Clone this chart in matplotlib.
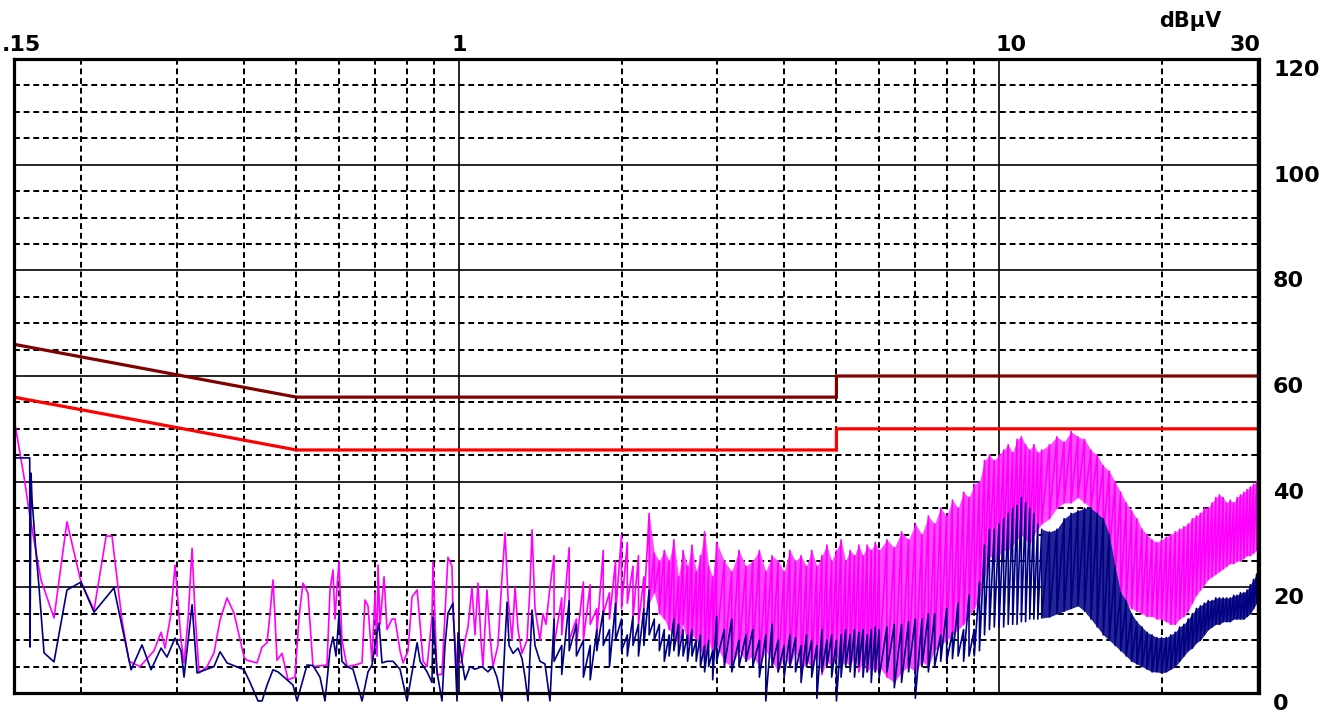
import numpy as np
import matplotlib
matplotlib.use("Agg")
import matplotlib.pyplot as plt

# ---------------- data ----------------
# limit lines (MHz, dBuV)
qp_f = [0.15, 0.5, 5.0, 5.0, 30.0]
qp_db = [66, 56, 56, 60, 60]
av_f = [0.15, 0.5, 5.0, 5.0, 30.0]
av_db = [56, 46, 46, 50, 50]

# magenta trace, low-frequency part (single trace)
mag_lf_f = [0.150, 0.1565, 0.1599, 0.1633, 0.1683, 0.1779, 0.1880, 0.1996, 0.2110, 0.2222,
            0.2278, 0.2377, 0.2450, 0.2567, 0.2725, 0.2808, 0.2856, 0.2930, 0.2980, 0.3019,
            0.3058, 0.3097, 0.3151, 0.3205, 0.3246, 0.3302, 0.3416, 0.3519, 0.3611, 0.3720,
            0.3833, 0.4000, 0.4051, 0.4228, 0.4319, 0.4412, 0.4468, 0.4526, 0.4565, 0.4604,
            0.4703, 0.4825, 0.4971, 0.5057, 0.5143, 0.5254, 0.5367, 0.5697, 0.5771, 0.5845,
            0.5895, 0.5945, 0.5996, 0.6073, 0.6205, 0.6420, 0.6615, 0.6700, 0.6786, 0.6903,
            0.6992, 0.7052, 0.7082, 0.7143, 0.7266, 0.7359, 0.7517, 0.7614, 0.7779, 0.7879,
            0.8049, 0.8188, 0.8366, 0.8473, 0.8582, 0.8730, 0.8914, 0.8953, 0.9106, 0.9302,
            0.9422, 0.9543, 0.9707, 0.9749, 0.9917, 1.0132, 1.0262, 1.0393, 1.0572, 1.0707,
            1.0845, 1.0984, 1.1078, 1.1268, 1.1413, 1.1560, 1.1808, 1.2018, 1.2173, 1.2329,
            1.2541, 1.2702, 1.2865, 1.3086, 1.3367, 1.3539, 1.3655, 1.3830, 1.4127, 1.4308,
            1.4492, 1.4741]
mag_lf_db = [52, 41, 34.6, 29, 21.4, 14.2, 32.4, 21, 15.7, 29.7,
             29.7, 13.8, 6, 5, 8, 11.5, 8.5, 15.1, 24.2, 17,
             10, 5.7, 14, 27.4, 15, 3.8, 5, 7.6, 13.8, 18,
             15.1, 6.8, 6.2, 5.7, 8.7, 9.5, 15, 21.4, 14, 6.2,
             7.5, 2.5, 3, 14.4, 20.8, 18.9, 5, 5.3, 19.5, 23.3,
             14, 20, 24.8, 10, 5, 5.3, 5.7, 17.6, 16.5, 6,
             19, 7, 24.2, 13, 22, 12, 14, 14, 8, 5.7,
             8, 18.2, 19.5, 13, 6, 5, 14.4, 24.8, 3.5, 3.5,
             15, 25.7, 24, 15, 5, 6.2, 10, 12.5, 20, 11,
             20.8, 10, 5, 19.5, 11, 5, 9, 22, 30.3, 18,
             10, 20, 12, 7.5, 10, 20, 30.9, 16, 10, 15,
             13, 20]

# navy trace, low-frequency part (single trace)
nav_lf_f = [0.150, 0.1604, 0.1606, 0.1613, 0.1620, 0.1648, 0.1669, 0.1705, 0.1779, 0.1880,
            0.1996, 0.2110, 0.2297, 0.2471, 0.2589, 0.2691, 0.2808, 0.2880, 0.2980, 0.3058,
            0.3097, 0.3205, 0.3274, 0.3519, 0.3611, 0.3720, 0.4000, 0.4104, 0.4246, 0.4319,
            0.4412, 0.4526, 0.4623, 0.4805, 0.4929, 0.5014, 0.5232, 0.5367, 0.5530, 0.5649,
            0.5771, 0.5845, 0.5920, 0.5996, 0.6073, 0.6205, 0.6365, 0.6615, 0.6786, 0.6903,
            0.7052, 0.7112, 0.7204, 0.7359, 0.7549, 0.7779, 0.8014, 0.8223, 0.8366, 0.8473,
            0.8730, 0.8914, 0.8953, 0.9106, 0.9302, 0.9422, 0.9543, 0.9749, 0.9833, 0.9917,
            0.9960, 1.0132, 1.0262, 1.0482, 1.0707, 1.1031, 1.1316, 1.1560, 1.1758, 1.2018,
            1.2173, 1.2277, 1.2382, 1.2595, 1.2865, 1.3086, 1.3254, 1.3424, 1.3655, 1.3830,
            1.4127, 1.4430, 1.4741]
nav_lf_db = [44.5, 44.5, 8.7, 41.6, 36.5, 26.5, 20, 7.6, 5.9, 19.5,
             21, 15.3, 19.9, 4.4, 9.1, 4.4, 8.5, 6.8, 10.4, 8,
             3, 16.7, 3.8, 5, 7.8, 5.7, 4.4, 2, -1.5, -1.5,
             1.5, 4.4, 4, 2.5, 1.5, -1.5, 5.3, 5.2, 3, -1.5,
             8.1, 10.6, 7, 14.8, 6, 5, 4.5, -1.5, 4, 5.3,
             11.4, 13.2, 5.7, 6, 6, 4.5, -1.5, 5, 9.5, 6,
             4, 2, 14.4, 4, -1.5, 9, 15.1, 17, 8, -1.5,
             11.4, 6, 2.5, 5, 4.5, 5, 4, 5, 3, -1.5,
             10, 17.2, 9, 7.5, 8.5, 6.5, 3, -1.5, 15.7, 9,
             6, 5.5, -1.5]

# dense sweep part: frequency, peak-top and trough values per sweep step
sweep_f = [1.50, 1.55, 1.60, 1.65, 1.70, 1.75, 1.80, 1.85, 1.90, 1.95,
           2.00, 2.05, 2.10, 2.15, 2.20, 2.25, 2.30, 2.35, 2.40, 2.45,
           2.50, 2.55, 2.60, 2.65, 2.70, 2.75, 2.80, 2.85, 2.90, 2.95,
           3.0, 3.1, 3.2, 3.3, 3.4, 3.5, 3.6, 3.7, 3.8, 3.9,
           4.0, 4.1, 4.2, 4.3, 4.4, 4.5, 4.6, 4.7, 4.8, 4.9,
           5.0, 5.1, 5.2, 5.3, 5.4, 5.5, 5.6, 5.7, 5.8, 5.9,
           6.0, 6.2, 6.4, 6.6, 6.8, 7.0, 7.2, 7.4, 7.6, 7.8,
           8.0, 8.2, 8.4, 8.6, 8.8, 9.0, 9.2, 9.4, 9.6, 9.8,
           10.0, 10.2, 10.4, 10.6, 10.8, 11.0, 11.2, 11.4, 11.6, 11.8,
           12.0, 12.4, 12.8, 13.2, 13.6, 14.0, 14.4, 14.8, 15.2, 15.6,
           16.0, 16.4, 16.8, 17.2, 17.6, 18.0, 18.4, 18.8, 19.2, 19.6,
           20.0, 20.4, 20.8, 21.2, 21.6, 22.0, 22.4, 22.8, 23.2, 23.6,
           24.0, 24.4, 24.8, 25.2, 25.6, 26.0, 26.4, 26.8, 27.2, 27.6,
           28.0, 28.4, 28.8, 29.2, 29.6, 30.0]
mag_hi = [26, 18, 27.5, 14, 21, 20.5, 16, 27, 19, 25,
          30, 28.5, 24, 26, 22, 34, 26.5, 25, 27, 25,
          29, 22, 27, 24, 28, 23, 26, 30.5, 24, 22,
          28.5, 25, 23, 27, 24, 25, 27, 23, 26, 25,
          23, 27, 25, 26, 24, 27, 24, 26, 28, 25,
          27, 29, 25, 27, 26, 28, 26, 28, 27, 28.5,
          27, 29, 27.5, 30.5, 29, 32, 30, 33.5, 32, 35,
          33.5, 36.5, 35, 38, 37, 39.5, 40, 44, 45, 44,
          45, 46, 47, 45.5, 48, 48.5, 47, 46, 47, 45.5,
          46, 47, 48.5, 47.5, 49.5, 48.5, 48, 46, 45, 43,
          42, 40, 38, 36, 34.5, 33, 31, 30, 29, 28.5,
          29, 29.5, 30, 30.5, 31, 31.5, 32, 33, 33.5, 34,
          35, 35, 36, 37, 37.5, 37, 36, 36.5, 36, 37,
          37.5, 38, 38.5, 39, 39.5, 40]
mag_lo = [9, 11, 10, 9, 10, 13, 11, 15, 14, 15,
          16, 17, 14, 13, 16, 17, 19, 15, 14, 12,
          11, 9, 13, 9, 11, 10, 8, 6, 10, 7,
          9, 6, 5, 8, 6, 7, 5, 8, 6, 4,
          7, 5, 8, 4, 6, 5, 7, 3.5, 6, 5,
          7, 5, 6, 5, 7, 4, 6, 4, 5, 4,
          5, 3, 2, 4, 5, 4, 6, 5, 8, 9,
          10, 11, 12, 13, 14.5, 16, 18, 22, 26, 25,
          26, 27, 27, 28, 29, 30, 29, 28, 30, 31,
          32, 33, 35, 36, 36, 37, 36, 35, 33, 30,
          26, 22, 18, 17, 16, 15.5, 15, 14.5, 14.5, 14,
          14, 13.5, 13, 13, 14, 14.5, 15.5, 17, 18.5, 19.5,
          20.5, 21.5, 22, 22.5, 23, 23.5, 24, 24.5, 24.5, 25,
          25, 25.5, 26, 26, 26.5, 27]
nav_hi = [14, 9, 17.5, 13, 10, 9, 12, 15.5, 12, 17,
          14, 11, 14.5, 13, 16, 19.5, 14, 13, 12, 11,
          14, 13, 12, 11, 12, 10, 11, 9, 10, 8,
          14.5, 12, 14, 10, 11, 12, 10, 11, 13, 10,
          9, 11, 10.5, 9, 11, 10, 9, 12, 10, 11,
          10, 11, 12, 11, 12, 11.5, 12, 11, 12, 12.5,
          12, 12.5, 13, 13, 13.5, 14, 14, 15, 15, 11,
          16, 11.5, 17, 12, 18.5, 12, 21, 28, 31, 31,
          32, 33, 34, 35, 35.5, 37, 36, 35, 34, 32,
          31, 30.5, 31, 33, 34, 34.5, 35, 35, 34, 33,
          30, 24, 19, 17.5, 15, 13.5, 12.5, 11.5, 11, 10.5,
          10.5, 10.5, 11, 11.5, 12.5, 13, 14, 15, 16, 16.5,
          17, 17.5, 17.5, 18, 18, 18, 18, 18, 18.5, 18.5,
          19, 19, 19.5, 20.5, 21.5, 22.5]
nav_lo = [6, 3.5, 8, 7, 3, 2.5, 8, 9, 5, 10,
          8, 7, 9, 7, 9, 11, 10, 8, 6, 7,
          8, 7, 7, 6, 7, 6, 5, 4, 5, 2.5,
          6, 5, 4, 5, 6, 5, 3, -1.5, 5, 4,
          3, 5, 4, 2, 5, 3, -1, 4, 5, 3,
          -1.5, 3, 5, 4, 3, 5, 3, 4, 2, 4,
          3, 4, 1, 2, 4, -1, 5, 4, 5, 6,
          6, 6.5, 7, 6, 7, 7, 8, 11, 12, 12.5,
          12.5, 12.5, 13, 13, 13, 13.5, 13.5, 14, 14, 14,
          14.2, 14.4, 15, 15.5, 16, 16.5, 15.5, 14, 12.5, 11,
          10, 9, 8, 7, 6, 5.5, 5, 4.5, 4, 4,
          3.8, 4, 4.5, 5, 6, 7, 8, 8.5, 9.5, 10,
          11, 12, 12.5, 13, 13, 13.5, 13.5, 13.5, 14, 14,
          14, 14, 14.5, 15, 16, 17]

# where the sweep is so dense that the trace reads as a solid band (MHz)
mag_dense_from = 2.25
nav_dense_from = 12.0

# axes labelling
top_ticks = [0.15, 1, 10, 30]
top_labels = ['.15', '1', '10', '30']
right_ticks = [120, 100, 80, 60, 40, 20, 0]
right_labels = ['120', '100', '80', '60', '40', '20', '0']
unit_label = 'dBµV'
grid_major_db = [20, 40, 60, 80, 100]
grid_minor_db = [v for v in range(5, 120, 5) if v % 20]
grid_major_f = [1, 10]
grid_minor_f = [0.2, 0.3, 0.4, 0.5, 0.6, 0.7, 0.8, 0.9, 2, 3, 4, 5, 6, 7, 8, 9, 20]

# ---------------- figure ----------------
W, H = 1334, 719
fig = plt.figure(figsize=(W / 100, H / 100), dpi=100)
fig.patch.set_facecolor('white')
L, R, T, B = 14, 1259, 59, 693
ax = fig.add_axes([L / W, 1 - B / H, (R - L) / W, (B - T) / H])
ax.set_xscale('log')
ax.set_xlim(0.15, 30.3)
ax.set_ylim(0, 120)
ax.set_xticks([])
ax.set_xticks([], minor=True)
ax.set_yticks([])
ax.tick_params(which='both', length=0, labelbottom=False, labelleft=False)
for s in ax.spines.values():
    s.set_linewidth(2.3)
    s.set_color('black')
    s.set_zorder(6)

dash = (0, (2.9, 1.9))
for v in grid_minor_db:
    ax.axhline(v, color='black', lw=1.45, ls=dash, zorder=1)
for v in grid_major_db:
    ax.axhline(v, color='black', lw=1.2, zorder=1)
for f in grid_minor_f:
    ax.axvline(f, color='black', lw=1.45, ls=dash, zorder=1)
for f in grid_major_f:
    ax.axvline(f, color='black', lw=1.2, zorder=1)
ax.axvline(30, color='black', lw=1.0, zorder=6)

# limit lines
ax.plot(qp_f, qp_db, color='#800000', lw=2.3, zorder=2, solid_joinstyle='miter')
ax.plot(av_f, av_db, color='#ff0000', lw=2.3, zorder=2, solid_joinstyle='miter')


def trace(lf_f, lf_db, f, hi, lo):
    zf = np.repeat(np.asarray(f, float), 2)
    zv = np.column_stack([hi, lo]).ravel()
    return (np.concatenate([lf_f, zf]), np.concatenate([lf_db, zv]))


sf = np.asarray(sweep_f, float)
mm = sf >= mag_dense_from
nm = sf >= nav_dense_from

mx, my = trace(mag_lf_f, mag_lf_db, sweep_f, mag_hi, mag_lo)
nx, ny = trace(nav_lf_f, nav_lf_db, sweep_f, nav_hi, nav_lo)
# dense bands: tinted (magenta / navy mixed with the white gaps of the sweep)
ax.fill_between(sf[mm], np.asarray(mag_lo)[mm], np.asarray(mag_hi)[mm],
                color='#ff4aff', lw=0, zorder=3)
ax.plot(mx, my, color='#ff00ff', lw=1.2, zorder=3, clip_on=False)
ax.fill_between(sf[nm], np.asarray(nav_lo)[nm], np.asarray(nav_hi)[nm],
                color='#242494', lw=0, zorder=4)
ax.plot(nx, ny, color='#000080', lw=1.2, zorder=4, clip_on=False)

fkw = dict(fontsize=16, fontweight='bold', family='DejaVu Sans', color='black',
           annotation_clip=False, textcoords='offset pixels')
for f, t, ha, dx in zip(top_ticks, top_labels, ['left', 'center', 'left', 'right'], [-12, 0, -3, 4]):
    ax.annotate(t, xy=(f, 1), xycoords=('data', 'axes fraction'), xytext=(dx, 8),
                ha=ha, va='baseline', **fkw)
for v, t in zip(right_ticks, right_labels):
    ax.annotate(t, xy=(1, v), xycoords=('axes fraction', 'data'), xytext=(14, -1),
                ha='left', va='top', **fkw)
ukw = dict(fkw)
ukw['fontsize'] = 15
ax.annotate(unit_label, xy=(30, 1), xycoords=('data', 'axes fraction'), xytext=(-66, 32),
            ha='center', va='baseline', **ukw)

fig.savefig('out.png', dpi=100, facecolor='white')
